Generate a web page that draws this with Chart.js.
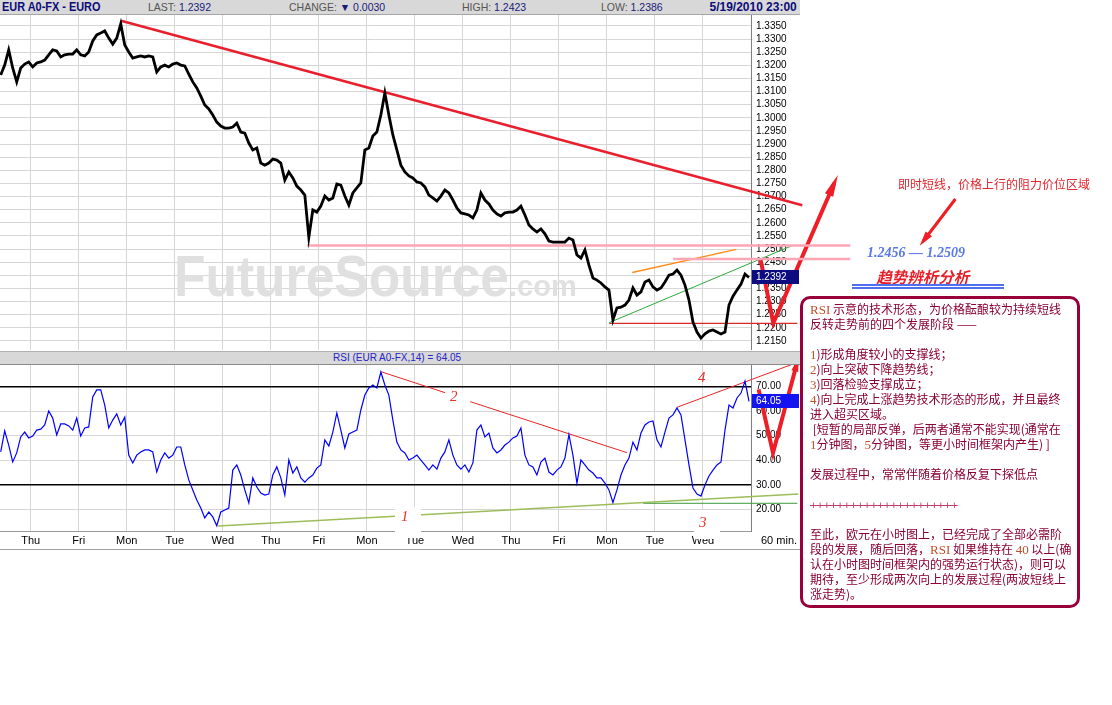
<!DOCTYPE html>
<html>
<head>
<meta charset="utf-8">
<title>EUR A0-FX - EURO</title>
<script src="https://cdn.jsdelivr.net/npm/chart.js@4.4.0/dist/chart.umd.min.js"></script>
<style>
  html, body { margin: 0; padding: 0; background: #fff; }
  #page { position: relative; width: 1112px; height: 705px; overflow: hidden; font-family: "Liberation Sans", Arial, sans-serif; }
  .abs { position: absolute; white-space: nowrap; }
  canvas { position: absolute; left: 0; }
  .bar { position: absolute; background: #d8d8d8; box-sizing: border-box; }
  .hdr { font-size: 10.5px; line-height: 13px; color: #1a1a7a; }
  .hdr .k { color: #555; }
  .title { font-weight: bold; font-size: 13px; line-height: 14px; color: #0b0b78; transform: scaleX(0.84); transform-origin: left top; }
  .date { font-weight: bold; font-size: 13px; line-height: 14px; color: #0b0b78; transform: scaleX(0.92); transform-origin: right top; }
  .num { position: absolute; font: italic 15px "Liberation Serif", serif; line-height: 17px; color: #e8322a; }
  .wbox { position: absolute; background: #fff; }
  .cjk { font-family: "Noto Sans CJK SC", sans-serif; }
  #note { position: absolute; left: 800px; top: 296px; width: 274px; height: 306px; border: 3px solid #98003a; border-radius: 10px; }
  #noteText { position: absolute; left: 810px; top: 301px; font: 12px "Noto Sans CJK SC", sans-serif; color: #8b0033; }
  #noteText div { height: 15px; line-height: 15px; white-space: pre; overflow: visible; }
  .ser { font-family: "Liberation Serif", serif; font-size: 13px; line-height: 10px; color: #c0502a; }
  .plus { font-family: "Liberation Sans", sans-serif; font-size: 11.5px; line-height: 10px; color: #c03a6a; text-decoration: line-through; }
</style>
</head>
<body>
<div id="page">
  <canvas id="priceChart" width="1112" height="335" style="top:15px"></canvas>
  <canvas id="rsiChart" width="1112" height="185" style="top:365px"></canvas>

  <div class="bar" style="left:0;top:0;width:800px;height:15px;border-bottom:1px solid #a6a6a6"></div>
  <div class="abs title" style="left:2px;top:0px">EUR A0-FX - EURO</div>
  <div class="abs hdr" style="left:148px;top:1px"><span class="k">LAST:</span> 1.2392</div>
  <div class="abs hdr" style="left:289px;top:1px"><span class="k">CHANGE:</span> ▼ 0.0030</div>
  <div class="abs hdr" style="left:462px;top:1px"><span class="k">HIGH:</span> 1.2423</div>
  <div class="abs hdr" style="left:601px;top:1px"><span class="k">LOW:</span> 1.2386</div>
  <div class="abs date" style="right:315px;top:0px">5/19/2010 23:00</div>

  <div class="bar" style="left:0;top:351px;width:800px;height:14px;border-top:1px solid #b0b0b0;border-bottom:1px solid #8a8a8a"></div>
  <div class="abs" style="left:333px;top:352px;font-size:10px;line-height:12px;color:#2323c8">RSI (EUR A0-FX,14) = 64.05</div>

  <div class="abs" style="left:0;top:549px;width:800px;height:1px;background:#a0a0a0"></div>
  <div class="abs" style="left:761px;top:534px;font-size:11px;line-height:13px;color:#000">60 min.</div>

  <div class="wbox" style="left:446px;top:389px;width:24px;height:20px"></div>
  <div class="num" style="left:450px;top:388px">2</div>
  <div class="num" style="left:698px;top:369px">4</div>
  <div class="wbox" style="left:395px;top:507px;width:26px;height:31px"></div>
  <div class="num" style="left:401px;top:508px">1</div>
  <div class="wbox" style="left:694px;top:510px;width:26px;height:29px"></div>
  <div class="num" style="left:699px;top:514px">3</div>

  <div class="abs cjk" style="left:898px;top:177px;font-size:12px;line-height:14px;color:#e3262d">即时短线，价格上行的阻力价位区域</div>
  <div class="abs" style="left:867px;top:244px;font:italic bold 14px 'Liberation Serif',serif;line-height:17px;color:#5a78e8">1.2456 — 1.2509</div>
  <div class="abs cjk" style="left:878px;top:267px;font-size:15.5px;font-weight:bold;line-height:18px;color:#e8202a;transform:skewX(-14deg)">趋势辨析分析</div>
  <div class="abs" style="left:852px;top:284px;width:152px;height:2px;background:#4f6ff0"></div>
  <div class="abs" style="left:852px;top:287px;width:152px;height:2px;background:#4f6ff0"></div>

  <div id="note"></div>
  <div id="noteText">
    <div><span class="ser">RSI</span> 示意的技术形态，为价格酝酿较为持续短线</div>
    <div>反转走势前的四个发展阶段 ——</div>
    <div></div>
    <div><span class="ser">1</span>)形成角度较小的支撑线；</div>
    <div><span class="ser">2</span>)向上突破下降趋势线；</div>
    <div><span class="ser">3</span>)回落检验支撑成立；</div>
    <div><span class="ser">4</span>)向上完成上涨趋势技术形态的形成，并且最终</div>
    <div>进入超买区域。</div>
    <div> [短暂的局部反弹，后两者通常不能实现(通常在</div>
    <div><span class="ser">1</span>分钟图，<span class="ser">5</span>分钟图，等更小时间框架内产生) ]</div>
    <div></div>
    <div>发展过程中，常常伴随着价格反复下探低点</div>
    <div></div>
    <div><span class="plus">++++++++++++++++++++++</span></div>
    <div></div>
    <div>至此，欧元在小时图上，已经完成了全部必需阶</div>
    <div>段的发展，随后回落，<span class="ser">RSI</span> 如果维持在 <span class="ser">40</span> 以上(确</div>
    <div>认在小时图时间框架内的强势运行状态)，则可以</div>
    <div>期待，至少形成两次向上的发展过程(两波短线上</div>
    <div>涨走势)。</div>
  </div>
</div>

<script>
// hourly chart sampled every 2 hours; hour 0 = Thu 4/29 00:00
const startHour = -15;
const stepHours = 2;
const xMin = -15.35;
const xMax = 360;
const dayHours = [0, 24, 48, 72, 96, 120, 144, 168, 192, 216, 240, 264, 288, 312, 336];
const dayLabels = ['Thu', 'Fri', 'Mon', 'Tue', 'Wed', 'Thu', 'Fri', 'Mon', 'Tue', 'Wed', 'Thu', 'Fri', 'Mon', 'Tue', 'Wed'];
const priceTicks = [1.2150, 1.2200, 1.2250, 1.2300, 1.2350, 1.2400, 1.2450, 1.2500, 1.2550, 1.2600, 1.2650, 1.2700,
  1.2750, 1.2800, 1.2850, 1.2900, 1.2950, 1.3000, 1.3050, 1.3100, 1.3150, 1.3200, 1.3250, 1.3300, 1.3350];
const rsiTicks = [20, 30, 40, 50, 60, 70];

const priceClose = [
  1.3163, 1.3201, 1.3259, 1.3190, 1.3137, 1.3190, 1.3205, 1.3213, 1.3194, 1.3209,
  1.3213, 1.3220, 1.3240, 1.3259, 1.3255, 1.3232, 1.3240, 1.3243, 1.3243, 1.3259,
  1.3240, 1.3236, 1.3251, 1.3293, 1.3316, 1.3323, 1.3331, 1.3304, 1.3281, 1.3304,
  1.3358, 1.3278, 1.3251, 1.3228, 1.3232, 1.3236, 1.3232, 1.3236, 1.3232, 1.3175,
  1.3194, 1.3201, 1.3194, 1.3205, 1.3209, 1.3201, 1.3198, 1.3167, 1.3137, 1.3114,
  1.3083, 1.3049, 1.3034, 1.3011, 1.2984, 1.2969, 1.2961, 1.2961, 1.2965, 1.2980,
  1.2946, 1.2942, 1.2904, 1.2878, 1.2885, 1.2828, 1.2820, 1.2828, 1.2843, 1.2839,
  1.2828, 1.2763, 1.2794, 1.2771, 1.2740, 1.2725, 1.2706, 1.2545, 1.2649, 1.2641,
  1.2664, 1.2702, 1.2687, 1.2695, 1.2748, 1.2744, 1.2702, 1.2668, 1.2714, 1.2733,
  1.2752, 1.2878, 1.2885, 1.2931, 1.2946, 1.3011, 1.3095, 1.3011, 1.2935, 1.2878,
  1.2820, 1.2794, 1.2779, 1.2771, 1.2756, 1.2752, 1.2737, 1.2706, 1.2695, 1.2683,
  1.2702, 1.2725, 1.2714, 1.2687, 1.2657, 1.2638, 1.2634, 1.2630, 1.2619, 1.2649,
  1.2714, 1.2687, 1.2672, 1.2649, 1.2634, 1.2626, 1.2638, 1.2641, 1.2641, 1.2649,
  1.2664, 1.2630, 1.2592, 1.2577, 1.2565, 1.2577, 1.2558, 1.2531, 1.2527, 1.2527,
  1.2527, 1.2527, 1.2542, 1.2535, 1.2478, 1.2466, 1.2497, 1.2439, 1.2390, 1.2382,
  1.2371, 1.2356, 1.2344, 1.2230, 1.2276, 1.2279, 1.2287, 1.2306, 1.2352, 1.2325,
  1.2337, 1.2375, 1.2382, 1.2356, 1.2344, 1.2352, 1.2375, 1.2401, 1.2405, 1.2420,
  1.2401, 1.2363, 1.2306, 1.2222, 1.2184, 1.2161, 1.2177, 1.2188, 1.2192, 1.2184,
  1.2177, 1.2184, 1.2287, 1.2321, 1.2344, 1.2367, 1.2405, 1.2392
];

const rsiValues = [
  43.4, 52.0, 46.2, 39.3, 43.0, 49.5, 51.5, 49.1, 49.9, 52.3,
  52.7, 54.4, 60.1, 57.2, 50.3, 54.8, 54.8, 54.0, 52.3, 57.2,
  49.9, 53.2, 53.6, 65.8, 68.7, 68.7, 62.5, 53.2, 56.4, 58.9,
  54.4, 57.6, 42.1, 38.9, 42.1, 43.4, 44.2, 44.2, 43.4, 35.2,
  40.1, 43.0, 40.9, 42.1, 45.4, 45.4, 38.1, 32.0, 27.9, 23.8,
  20.5, 16.5, 18.9, 16.9, 13.3, 18.9, 19.7, 20.5, 36.0, 38.1,
  34.0, 27.9, 22.6, 32.8, 29.1, 26.6, 25.8, 26.2, 34.0, 37.3,
  32.8, 25.8, 40.1, 34.8, 37.3, 32.8, 31.1, 32.8, 34.0, 36.8,
  38.1, 48.3, 45.8, 51.5, 59.3, 52.3, 45.0, 50.7, 51.5, 52.3,
  60.5, 66.6, 69.5, 70.7, 69.5, 76.0, 70.7, 66.6, 56.4, 47.4,
  44.2, 43.0, 40.1, 40.9, 42.1, 40.1, 38.1, 36.0, 38.1, 36.4,
  40.9, 43.4, 48.3, 42.1, 38.1, 36.4, 38.1, 35.2, 38.9, 52.3,
  54.4, 49.5, 51.1, 45.0, 43.0, 44.2, 46.2, 47.4, 49.1, 49.9,
  53.2, 42.1, 38.1, 37.3, 34.0, 39.3, 40.9, 35.2, 34.0, 36.0,
  37.3, 40.9, 50.5, 42.1, 30.7, 40.1, 38.1, 36.0, 34.8, 32.8,
  32.8, 30.7, 27.9, 22.8, 27.9, 34.0, 38.1, 40.9, 47.4, 44.2,
  51.1, 54.4, 55.6, 56.0, 48.3, 45.4, 51.5, 57.2, 58.5, 61.3,
  58.5, 48.3, 38.1, 28.7, 26.2, 25.4, 29.9, 33.6, 36.0, 38.1,
  39.3, 52.3, 62.5, 61.3, 65.4, 67.4, 72.3, 64.05
];

// hand-drawn trend lines, in (hour, value)
const resistLine = [[45.15, 1.3370], [385.65, 1.2667]];
const pinkUpper = [[138.15, 1.2514], [409.65, 1.2514]];
const pinkLower = [[321.15, 1.2462], [409.65, 1.2462]];
const orangeLine = [[300.65, 1.2411], [352.65, 1.2499]];
const greenLine = [[289.15, 1.2220], [380.15, 1.2512]];
const supportLine = [[289.15, 1.2217], [383.15, 1.2217]];
const priceV = [[364.65, 1.2466], [371.15, 1.2218], [401.65, 1.2752]];
const noteArrow = [[462.15, 1.2691], [446.15, 1.2531]];

const rsiLine2a = [[175.15, 76.1], [207.15, 67.55]];
const rsiLine2b = [[219.65, 63.9], [298.0, 43.1]];
const rsiLine4 = [[323.0, 61.6], [383.15, 79.9]];
const rsiLine1 = [[93.65, 13.2], [383.65, 26.2]];
const rsiLine3 = [[306.15, 22.45], [383.15, 22.45]];
const rsiV = [[363.8, 68.9], [371.0, 43.0], [383.0, 79.7]];

const lastPrice = 1.2392;
const lastRsi = 64.05;

const series = arr => arr.map((v, i) => ({ x: startHour + i * stepHours, y: v }));
const pairs = arr => arr.map(p => ({ x: p[0], y: p[1] }));

function mark(data, color, width, extra) {
  return Object.assign({
    data: pairs(data), borderColor: color, borderWidth: width,
    pointRadius: 0, clip: false, tension: 0, borderJoinStyle: 'miter'
  }, extra || {});
}

Chart.defaults.font.family = 'Liberation Sans';

const arrowHeads = {
  id: 'arrowHeads',
  afterDatasetsDraw(chart) {
    const ctx = chart.ctx;
    chart.data.datasets.forEach((ds, i) => {
      if (!ds.arrowHead) return;
      const pts = chart.getDatasetMeta(i).data;
      const a = pts[pts.length - 2], b = pts[pts.length - 1];
      const dx = b.x - a.x, dy = b.y - a.y, d = Math.hypot(dx, dy);
      const ux = dx / d, uy = dy / d;
      const [len, half] = ds.arrowHead;
      const tx = b.x + ux * len * 0.4, ty = b.y + uy * len * 0.4;
      const bx = tx - ux * len, by = ty - uy * len;
      ctx.save();
      ctx.fillStyle = ds.borderColor;
      ctx.beginPath();
      ctx.moveTo(tx, ty);
      ctx.lineTo(bx - uy * half, by + ux * half);
      ctx.lineTo(bx + uy * half, by - ux * half);
      ctx.closePath();
      ctx.fill();
      ctx.restore();
    });
  }
};

const lastValueBox = {
  id: 'lastValueBox',
  afterDraw(chart, args, opts) {
    const s = chart.scales.y, ctx = chart.ctx;
    const y = s.getPixelForValue(opts.value);
    ctx.save();
    ctx.fillStyle = opts.bg;
    ctx.fillRect(s.left + 1, Math.round(y) - 7, 47, 14);
    ctx.fillStyle = '#fff';
    ctx.font = '10px "Liberation Sans"';
    ctx.textBaseline = 'middle';
    ctx.fillText(opts.text, s.left + 5, y);
    ctx.restore();
  }
};

const watermark = {
  id: 'watermark',
  beforeDatasetsDraw(chart) {
    const ctx = chart.ctx;
    ctx.save();
    ctx.fillStyle = '#e0e0e0';
    ctx.font = 'bold 57px "Liberation Sans"';
    ctx.fillText('FutureSource', 174, 281, 335);
    ctx.font = 'bold 29px "Liberation Sans"';
    ctx.fillText('.com', 509, 281);
    ctx.restore();
  }
};

// x range is forced after tick building so that marks past the right edge are still drawn
function xAxis(showLabels) {
  return {
    type: 'linear', bounds: 'data',
    afterBuildTicks: s => { s.min = xMin; s.max = xMax; s.ticks = dayHours.map(v => ({ value: v })); },
    afterFit: s => { s.height = showLabels ? 19 : 0; s.paddingLeft = 0; s.paddingRight = 0; },
    grid: { color: '#d6d6d6', drawTicks: false },
    border: { display: showLabels, color: '#9a9a9a' },
    ticks: {
      display: showLabels, padding: 3, color: '#000', autoSkip: false, maxRotation: 0,
      font: { size: 11 }, callback: (v, i) => dayLabels[i]
    }
  };
}

function yAxis(min, max, ticks, digits, gridColor, gridWidth) {
  return {
    position: 'right', min: min, max: max,
    afterBuildTicks: s => { s.ticks = ticks.map(v => ({ value: v })); },
    afterFit: s => { s.width = 49; s.paddingTop = 0; s.paddingBottom = 0; },
    grid: { color: gridColor, lineWidth: gridWidth, drawTicks: false },
    border: { color: '#7f7f7f' },
    ticks: { padding: 5, color: '#000', autoSkip: false, font: { size: 10 }, callback: v => v.toFixed(digits) }
  };
}

new Chart(document.getElementById('priceChart'), {
  type: 'line',
  data: {
    datasets: [
      { data: series(priceClose), borderColor: '#000', borderWidth: 2.8, pointRadius: 0, tension: 0 },
      mark(resistLine, '#e8202e', 2.5),
      mark(pinkUpper, '#ffa6b6', 2.5),
      mark(pinkLower, '#ffa6b6', 2.5),
      mark(orangeLine, '#ff8c1a', 1.5),
      mark(greenLine, '#2aaa3a', 1),
      mark(supportLine, '#dd2626', 1.2),
      mark(priceV, '#ee1d26', 4, { arrowHead: [22, 4.5] }),
      mark(noteArrow, '#ee1d26', 3, { arrowHead: [15, 4] })
    ]
  },
  options: {
    responsive: false, devicePixelRatio: 1, animation: false,
    layout: { padding: { left: 0, right: 312, top: 0, bottom: 0 } },
    plugins: { legend: { display: false }, tooltip: { enabled: false },
      lastValueBox: { value: lastPrice, text: lastPrice.toFixed(4), bg: '#0c0c80' } },
    scales: {
      x: xAxis(false),
      y: yAxis(1.21157, 1.33919, priceTicks, 4, '#d6d6d6', 1)
    }
  },
  plugins: [watermark, arrowHeads, lastValueBox]
});

const isBand = c => c.tick && (c.tick.value === 70 || c.tick.value === 30);

new Chart(document.getElementById('rsiChart'), {
  type: 'line',
  data: {
    datasets: [
      { data: series(rsiValues), borderColor: '#0000ff', borderWidth: 1.2, pointRadius: 0, tension: 0 },
      mark(rsiLine2a, '#e82424', 1),
      mark(rsiLine2b, '#e82424', 1),
      mark(rsiLine4, '#e82424', 1),
      mark(rsiLine1, '#9cbd5a', 1.5),
      mark(rsiLine3, '#3a9a3a', 1),
      mark(rsiV, '#ee1d26', 4, { arrowHead: [14, 3.5] })
    ]
  },
  options: {
    responsive: false, devicePixelRatio: 1, animation: false,
    layout: { padding: { left: 0, right: 312, top: 0, bottom: 0 } },
    plugins: { legend: { display: false }, tooltip: { enabled: false },
      lastValueBox: { value: lastRsi, text: lastRsi.toFixed(2), bg: '#1414f0' } },
    scales: {
      x: xAxis(true),
      y: yAxis(11.15, 78.85, rsiTicks, 2, c => isBand(c) ? '#000' : '#d6d6d6', c => isBand(c) ? 1.5 : 1)
    }
  },
  plugins: [arrowHeads, lastValueBox]
});
</script>
</body>
</html>
